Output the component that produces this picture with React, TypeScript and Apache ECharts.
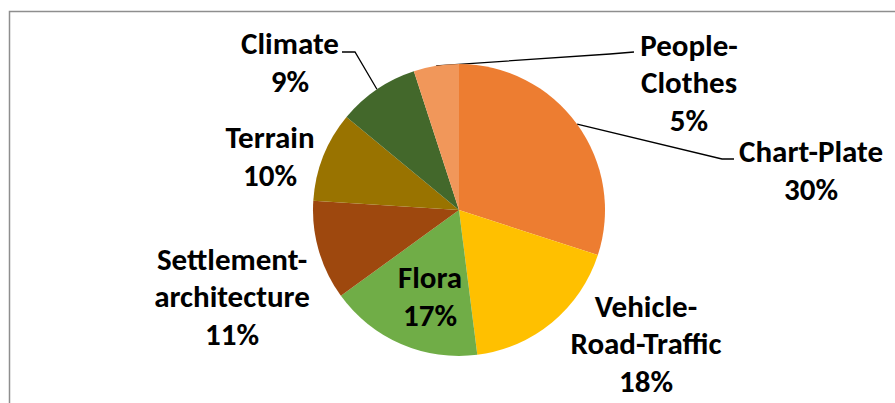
import React, { useEffect, useRef } from "react";
import * as echarts from "echarts";

const categories = [
  "Chart-Plate",
  "Vehicle-Road-Traffic",
  "Flora",
  "Settlement-architecture",
  "Terrain",
  "Climate",
  "People-Clothes",
];
const labelTexts = [
  "Chart-Plate",
  "Vehicle-\nRoad-Traffic",
  "Flora",
  "Settlement-\narchitecture",
  "Terrain",
  "Climate",
  "People-\nClothes",
];
const values = [30, 18, 17, 11, 10, 9, 5];
const colors = ["#ED7D31", "#FFC000", "#70AD47", "#9E480E", "#997300", "#43682B", "#F1975A"];
const labelPos: [number, number][] = [
  [811, 170],
  [646, 343],
  [430, 296],
  [232, 296],
  [270, 156],
  [290, 62],
  [689, 82],
];
// leader line bend + end points (null = no leader line)
const leaderPts: ([number, number][] | null)[] = [
  [[722, 159], [734, 159]],
  null,
  null,
  null,
  null,
  [[355, 52], [342, 52]],
  [[610, 54], [634, 52]],
];

export default function App() {
  const ref = useRef<HTMLDivElement>(null);
  useEffect(() => {
    if (!ref.current) return;
    const chart = echarts.init(ref.current, undefined, { renderer: "svg" });
    const font = "Carlito, Calibri, Lato, sans-serif";
    chart.setOption({
      animation: false,
      backgroundColor: "#ffffff",
      graphic: [
        {
          type: "rect",
          shape: { x: 9.5, y: 11.5, width: 900, height: 420 },
          style: { fill: "none", stroke: "#8e8e8e", lineWidth: 1.5 },
          silent: true,
          z: -1,
        },
      ],
      series: [
        {
          type: "pie",
          center: [459, 210],
          radius: 146,
          startAngle: 90,
          clockwise: true,
          avoidLabelOverlap: false,
          itemStyle: { borderWidth: 0 },
          label: {
            show: true,
            position: "outside",
            fontFamily: font,
            fontWeight: "bold",
            fontSize: 31,
            lineHeight: 37.5,
            color: "#000000",
            align: "center",
            formatter: (p: any) => `${labelTexts[p.dataIndex]}\n${p.percent.toFixed(0)}%`,
          },
          labelLine: {
            show: true,
            length: 20,
            length2: 10,
            lineStyle: { color: "#000000", width: 1.3 },
          },
          labelLayout: (p: any) => {
            const [x, y] = labelPos[p.dataIndex];
            const out: any = { x, y, align: "center", verticalAlign: "middle" };
            const lp = leaderPts[p.dataIndex];
            if (lp && p.labelLinePoints && p.labelLinePoints[0]) {
              out.labelLinePoints = [p.labelLinePoints[0], lp[0], lp[1]];
            }
            return out;
          },
          data: categories.map((name, i) => ({
            name,
            value: values[i],
            itemStyle: { color: colors[i] },
            labelLine: { show: leaderPts[i] !== null },
          })),
        },
      ],
    });
    return () => chart.dispose();
  }, []);
  return (
    <div
      ref={ref}
      style={{ position: "fixed", left: 0, top: 0, width: 895, height: 403 }}
    />
  );
}
